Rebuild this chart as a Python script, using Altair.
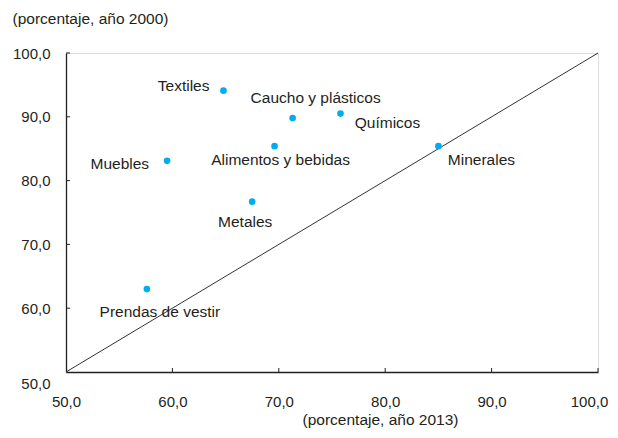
import altair as alt
import pandas as pd

sectors = ["Textiles", "Caucho y plásticos", "Químicos", "Alimentos y bebidas",
           "Minerales", "Muebles", "Metales", "Prendas de vestir"]
share_2013 = [64.8, 71.3, 75.8, 69.6, 85.0, 59.5, 67.5, 57.6]
share_2000 = [94.1, 89.8, 90.5, 85.4, 85.4, 83.1, 76.7, 63.0]

diag_x = [50, 100]
diag_y = [50, 100]
tick_values = [50, 60, 70, 80, 90, 100]

# label placement (pixels): align, dx, dy
label_style = {
    "Textiles": ("right", -14, -5),
    "Caucho y plásticos": ("center", 23, -20),
    "Químicos": ("center", 47, 9),
    "Alimentos y bebidas": ("center", 6, 14),
    "Minerales": ("center", 43, 14),
    "Muebles": ("right", -18, 3),
    "Metales": ("center", -7, 20),
    "Prendas de vestir": ("center", 13, 23),
}

FONT = "Liberation Sans"
TXT = "#231f20"
df = pd.DataFrame({"sector": sectors, "x": share_2013, "y": share_2000})
diag = pd.DataFrame({"x": diag_x, "y": diag_y})
ticks_df = pd.DataFrame({"v": tick_values[1:]})

label_expr = "replace(format(datum.value, '.1f'), '.', ',')"

xscale = alt.Scale(domain=[50, 100], nice=False, zero=False)
yscale = alt.Scale(domain=[50, 100], nice=False, zero=False)

xaxis = alt.Axis(values=tick_values, labelExpr=label_expr, ticks=False, grid=False,
                 domainColor=TXT, domainWidth=1.3, labelPadding=22, labelFontSize=15,
                 labelFont=FONT, labelColor=TXT, labelFlush=False,
                 labelOffset={"condition": {"test": "datum.value == 100", "value": -9}, "value": 0},
                 title="(porcentaje, año 2013)", titleFont=FONT, titleFontSize=15.5,
                 titleFontWeight="normal", titleColor=TXT, titleX=314, titleY=47,
                 titleAlign="center", titleBaseline="middle")
yaxis = alt.Axis(values=tick_values, labelExpr=label_expr, ticks=False, grid=False,
                 domainColor=TXT, domainWidth=1.3, labelPadding=16, labelFontSize=15,
                 labelFont=FONT, labelColor=TXT, labelFlush=False,
                 labelOffset={"condition": {"test": "datum.value == 50", "value": 11}, "value": 0},
                 title="(porcentaje, año 2000)", titleFont=FONT, titleFontSize=15.5,
                 titleFontWeight="normal", titleColor=TXT, titleAngle=0, titleX=-54,
                 titleY=-35, titleAlign="left", titleBaseline="middle")

line = alt.Chart(diag).mark_line(color="#333333", strokeWidth=1).encode(
    x=alt.X("x:Q", scale=xscale, axis=xaxis),
    y=alt.Y("y:Q", scale=yscale, axis=yaxis),
)

xticks = alt.Chart(ticks_df).mark_rule(color=TXT, strokeWidth=1).encode(
    x=alt.X("v:Q", scale=xscale), y=alt.value(319), y2=alt.value(315))
yticks = alt.Chart(ticks_df).mark_rule(color=TXT, strokeWidth=1).encode(
    y=alt.Y("v:Q", scale=yscale), x=alt.value(0), x2=alt.value(4))

points = alt.Chart(df).mark_circle(color="#00aeef", opacity=1, size=44).encode(
    x=alt.X("x:Q", scale=xscale), y=alt.Y("y:Q", scale=yscale))

layers = [line, xticks, yticks, points]
for s in sectors:
    al, dx, dy = label_style[s]
    layers.append(
        alt.Chart(df).transform_filter(alt.datum.sector == s).mark_text(
            align=al, baseline="middle", dx=dx, dy=dy, font=FONT, fontSize=15.5, color=TXT
        ).encode(x=alt.X("x:Q", scale=xscale), y=alt.Y("y:Q", scale=yscale), text="sector:N")
    )

chart = alt.layer(*layers).properties(
    width=532, height=319,
    autosize=alt.AutoSizeParams(type="none"),
    padding={"left": 58, "top": 45, "right": 12, "bottom": 58},
).configure_view(stroke=None).configure(background="white")

chart.save("out.html", embed_options={"renderer": "svg", "actions": False})
